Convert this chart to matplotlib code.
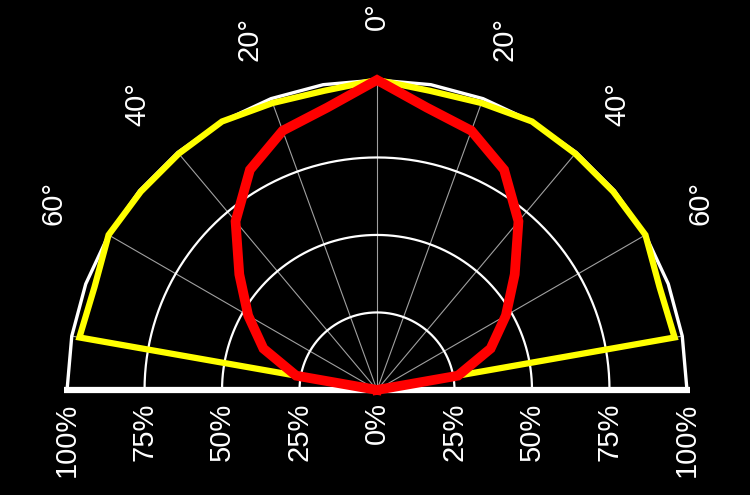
import numpy as np
import matplotlib
matplotlib.use("Agg")
import matplotlib.pyplot as plt

# angles in degrees, 0 = straight up, negative = left side
angles = [-90, -80, -70, -60, -50, -40, -30, -20, -10, 0, 10, 20, 30, 40, 50, 60, 70, 80, 90]
# relative intensity in %
yellow = [0, 97.5, 97, 100, 99.5, 99.5, 100, 98.5, 98, 100, 98, 98.5, 100, 99.5, 99.5, 100, 97, 97.5, 0]
red = [0, 26.5, 39, 48, 58, 71, 82, 89, 92.5, 100, 92.5, 89, 82, 71, 58, 48, 39, 26.5, 0]

ring_levels = [0.25, 0.5, 0.75]
spoke_angles = [-80, -60, -40, -20, 0, 20, 40, 60, 80]
angle_labels = [-60, -40, -20, 0, 20, 40, 60]
pct_ticks = [-1.0, -0.75, -0.5, -0.25, 0.0, 0.25, 0.5, 0.75, 1.0]
pct_labels = ["100%", "75%", "50%", "25%", "0%", "25%", "50%", "75%", "100%"]

plt.rcParams['font.family'] = ['Liberation Sans', 'DejaVu Sans']


def to_xy(deg, r):
    t = np.radians(np.asarray(deg, dtype=float))
    r = np.asarray(r, dtype=float)
    return r * np.sin(t), r * np.cos(t)


fig = plt.figure(figsize=(7.5, 4.95), dpi=100, facecolor='black')
ax = fig.add_axes([0, 0, 1, 1])
ax.set_facecolor('black')
ax.set_xlim(-1.216, 1.203)
ax.set_ylim(-0.339, 1.258)
ax.set_aspect('equal')
ax.axis('off')

# spokes
for a in spoke_angles:
    x, y = to_xy([a, a], [0, 1])
    ax.plot(x, y, color='#a0a0a0', lw=0.8, zorder=1)

# rings
fine = np.linspace(-90, 90, 361)
for lev in ring_levels:
    x, y = to_xy(fine, np.full_like(fine, lev))
    ax.plot(x, y, color='white', lw=1.6, zorder=2)

# outer boundary (coarse polygon)
ox, oy = to_xy(angles, np.ones(len(angles)))
ax.plot(ox, oy, color='white', lw=2.4, zorder=2)
ax.plot([-1.01, 1.01], [0, 0], color='white', lw=4.5, zorder=2, solid_capstyle='butt')

# data curves
yx, yy = to_xy(angles, np.array(yellow) / 100)
ax.plot(yx, yy, color='#ffff00', lw=4.5, zorder=3, solid_joinstyle='miter')
rx, ry = to_xy(angles, np.array(red) / 100)
ax.plot(rx, ry, color='#ff0000', lw=7, zorder=4, solid_joinstyle='miter')

# angle labels
for a in angle_labels:
    x, y = to_xy(a, 1.205)
    ax.text(x, y, f"{abs(a)}°", color='white', fontsize=21, rotation=90,
            ha='center', va='center')

# percent labels
for t, lab in zip(pct_ticks, pct_labels):
    ax.text(t, -0.04, lab, color='white', fontsize=21, rotation=90,
            ha='center', va='top')

fig.savefig("out.png", dpi=100, facecolor='black')
